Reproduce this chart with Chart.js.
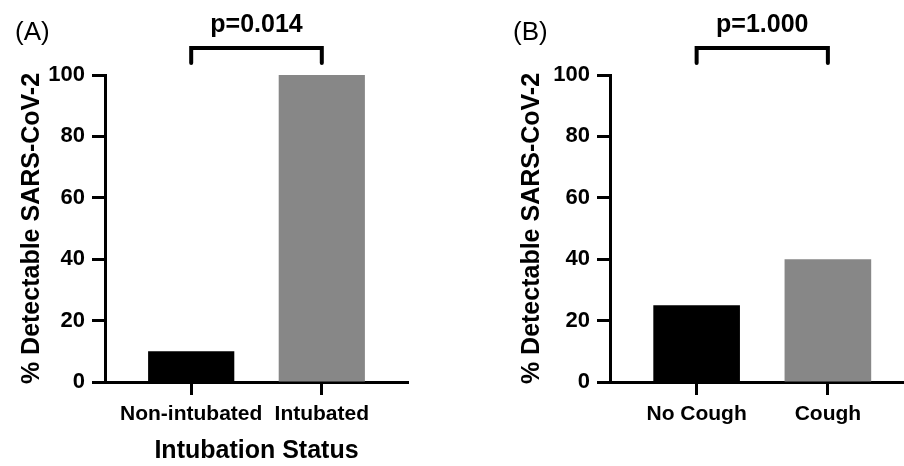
<!DOCTYPE html>
<html>
<head>
<meta charset="utf-8">
<script src="https://cdn.jsdelivr.net/npm/chart.js@4"></script>
<style>
  body { margin: 0; background: #fff; }
  #wrap { position: relative; width: 904px; height: 466px; }
  canvas { position: absolute; top: 0; }
  #chartA { left: 0; }
  #chartB { left: 452px; }
</style>
</head>
<body>
<div id="wrap">
  <canvas id="chartA" width="452" height="466"></canvas>
  <canvas id="chartB" width="452" height="466"></canvas>
</div>
<script>
// Data
const intubationCategories = ['Non-intubated', 'Intubated'];
const intubationValues = [10, 100];
const coughCategories = ['No Cough', 'Cough'];
const coughValues = [25, 40];
const yTicks = [0, 20, 40, 60, 80, 100];
const pValues = ['p=0.014', 'p=1.000'];
const panelLabels = ['(A)', '(B)'];
const barColors = ['#000000', '#878787'];

const FONT = '"Liberation Sans", Arial, sans-serif';

// bracket + p value + panel letter
const annotate = {
    id: 'annotate',
    afterDraw(chart, args, opts) {
        const c = chart.ctx;
        const x = chart.scales.x;
        const top = chart.chartArea.top;
        const x1 = x.getPixelForValue(1);
        const x2 = x.getPixelForValue(2);
        c.save();
        c.strokeStyle = '#000';
        c.lineWidth = 4;
        c.lineJoin = 'miter';
        c.lineCap = 'round';
        c.beginPath();
        c.moveTo(x1, top - 12);
        c.lineTo(x1, top - 27);
        c.lineTo(x2, top - 27);
        c.lineTo(x2, top - 12);
        c.stroke();
        c.fillStyle = '#000';
        c.font = 'bold 25px ' + FONT;
        c.textAlign = 'center';
        c.textBaseline = 'middle';
        c.fillText(opts.p, (x1 + x2) / 2, top - 50);
        c.font = '26px ' + FONT;
        c.textAlign = 'left';
        c.fillText(opts.panel, opts.panelX, 33);
        c.restore();
    }
};

function makeChart(id, cats, vals, opt) {
    return new Chart(document.getElementById(id), {
        type: 'bar',
        data: {
            datasets: [{
                data: vals.map((v, i) => ({ x: i + 1, y: v })),
                backgroundColor: barColors,
                borderWidth: 0,
                barPercentage: 0.66,
                categoryPercentage: 1
            }]
        },
        options: {
            responsive: false,
            animation: false,
            layout: { padding: { top: 75, left: opt.padLeft, right: opt.padRight, bottom: 0 } },
            plugins: {
                legend: { display: false },
                tooltip: { enabled: false },
                annotate: { p: opt.p, panel: opt.panel, panelX: opt.panelX }
            },
            scales: {
                x: {
                    type: 'linear',
                    offset: false,
                    bounds: 'data',
                    min: opt.xMin,
                    max: opt.xMax,
                    afterBuildTicks: s => { s.ticks = cats.map((c, i) => ({ value: i + 1 })); },
                    afterFit: s => { s.height = 84; },
                    border: { display: true, color: '#000', width: 3 },
                    grid: { offset: false, drawOnChartArea: false, drawTicks: true, tickLength: 13, tickWidth: 3, tickColor: '#000' },
                    ticks: {
                        color: '#000',
                        padding: 7,
                        maxRotation: 0,
                        autoSkip: false,
                        font: { family: FONT, size: 21, weight: 'bold' },
                        callback: v => cats[v - 1]
                    },
                    title: {
                        display: !!opt.xTitle,
                        text: opt.xTitle || '',
                        color: '#000',
                        padding: { top: 0, bottom: 0 },
                        font: { family: FONT, size: 25, weight: 'bold' }
                    }
                },
                y: {
                    min: 0,
                    max: 100,
                    afterBuildTicks: s => { s.ticks = yTicks.map(v => ({ value: v })); },
                    afterFit: s => { s.width = opt.yWidth; },
                    border: { display: true, color: '#000', width: 3 },
                    grid: { drawOnChartArea: false, drawTicks: true, tickLength: 13, tickWidth: 3, tickColor: '#000' },
                    ticks: {
                        color: '#000',
                        padding: 7,
                        font: { family: FONT, size: 22, weight: 'bold' }
                    },
                    title: {
                        display: true,
                        text: '% Detectable SARS-CoV-2',
                        color: '#000',
                        padding: { top: 17, bottom: 0 },
                        font: { family: FONT, size: 25, weight: 'bold' }
                    }
                }
            }
        },
        plugins: [annotate]
    });
}

makeChart('chartA', intubationCategories, intubationValues, {
    padLeft: 0, padRight: 44, yWidth: 105, xMin: 0.34, xMax: 2.66,
    p: pValues[0], panel: panelLabels[0], panelX: 15, xTitle: 'Intubation Status'
});
makeChart('chartB', coughCategories, coughValues, {
    padLeft: 48, padRight: 0, yWidth: 110, xMin: 0.34, xMax: 2.58,
    p: pValues[1], panel: panelLabels[1], panelX: 61
});
</script>
</body>
</html>
